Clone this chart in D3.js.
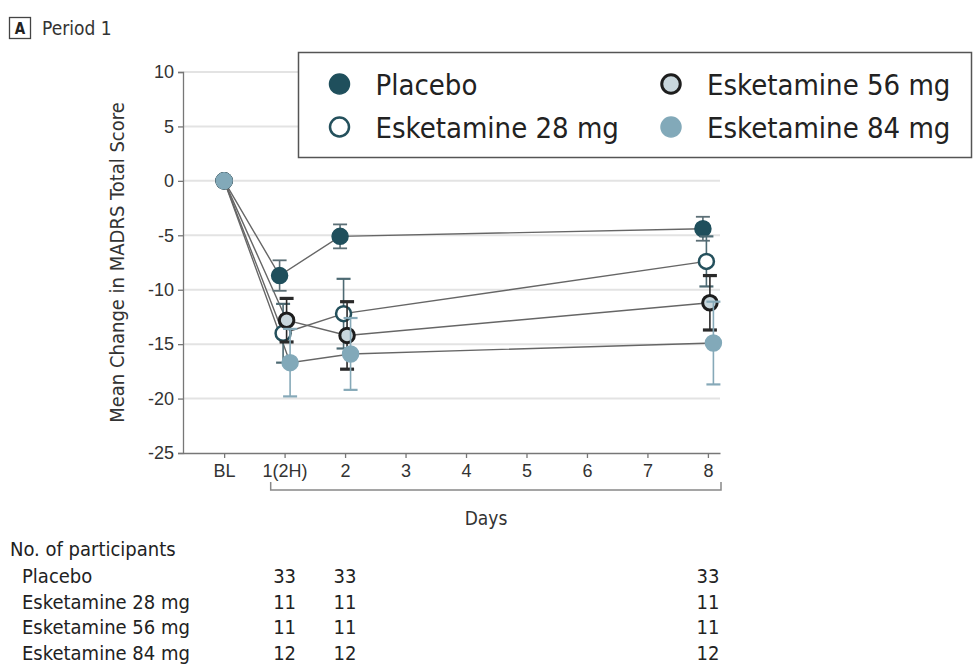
<!DOCTYPE html>
<html>
<head>
<meta charset="utf-8">
<script src="https://cdn.jsdelivr.net/npm/d3@7"></script>
<style>
  html, body { margin: 0; padding: 0; background: #fff; }
  svg { display: block; font-family: "DejaVu Sans Condensed", "Liberation Sans Narrow", "Open Sans", sans-serif; }
</style>
</head>
<body>
<svg id="chart" width="974" height="664"></svg>
<script>
// Day positions on the x axis and their labels
const tickValues = [0, 1, 2, 3, 4, 5, 6, 7, 8];
const tickLabels = ["BL", "1(2H)", "2", "3", "4", "5", "6", "7", "8"];

// Assessment days that carry data
const days = [0, 1, 2, 8];

// Mean change in MADRS total score, and error half-widths, per group
const seriesNames = ["Placebo", "Esketamine 28 mg", "Esketamine 56 mg", "Esketamine 84 mg"];
const placeboMean = [0, -8.7, -5.1, -4.4];
const placeboErr  = [0, 1.4, 1.1, 1.1];
const esk28Mean   = [0, -14.0, -12.2, -7.4];
const esk28Err    = [0, 2.7, 3.2, 2.3];
const esk56Mean   = [0, -12.8, -14.2, -11.2];
const esk56Err    = [0, 2.0, 3.1, 2.5];
const esk84Mean   = [0, -16.7, -15.9, -14.9];
const esk84Err    = [0, 3.1, 3.3, 3.8];

// Participants at each post-baseline day
const participantDays = [1, 2, 8];
const placeboN = [33, 33, 33];
const esk28N   = [11, 11, 11];
const esk56N   = [11, 11, 11];
const esk84N   = [12, 12, 12];

const yTicks = [10, 5, 0, -5, -10, -15, -20, -25];

// Visual styling per group
const styles = [
  { fill: "#1f4f5c", stroke: "#1f4f5c", sw: 1.5, err: "#5c6f76", errW: 1.8, dodge: -5 },
  { fill: "#ffffff", stroke: "#24505c", sw: 2.5, err: "#4d6a73", errW: 2.2, dodge: -1.5 },
  { fill: "#c8d6dc", stroke: "#1d1d1d", sw: 3,   err: "#2a2a2a", errW: 3.2, dodge: 2 },
  { fill: "#82a9b9", stroke: "#82a9b9", sw: 1.5, err: "#86a9b8", errW: 2.2, dodge: 5.5 }
];

const series = [
  { name: seriesNames[0], mean: placeboMean, err: placeboErr, n: placeboN },
  { name: seriesNames[1], mean: esk28Mean,   err: esk28Err,   n: esk28N },
  { name: seriesNames[2], mean: esk56Mean,   err: esk56Err,   n: esk56N },
  { name: seriesNames[3], mean: esk84Mean,   err: esk84Err,   n: esk84N }
].map((s, i) => ({ ...s, style: styles[i],
  points: days.map((d, j) => ({ day: d, mean: s.mean[j], err: s.err[j] })) }));

const svg = d3.select("#chart");

const x = d3.scaleLinear().domain([-0.68, 8.2]).range([183, 720]);
const y = d3.scaleLinear().domain([-25, 10]).range([453, 72]);
const px = (d, s) => x(d.day) + (d.day === 0 ? 0 : s.style.dodge);
const hyphenFmt = d => String(d).replace("\u2212", "-");

// Panel tag
svg.append("rect").attr("x", 9.5).attr("y", 17.5).attr("width", 21).attr("height", 21)
  .attr("fill", "none").attr("stroke", "#444").attr("stroke-width", 1.3);
svg.append("text").attr("x", 20).attr("y", 34).attr("text-anchor", "middle")
  .attr("font-size", 15).attr("font-weight", "bold").attr("fill", "#222").text("A");
svg.append("text").attr("x", 42).attr("y", 35).attr("font-size", 19).attr("fill", "#333").text("Period 1");

// Gridlines
svg.append("g").selectAll("line").data(yTicks.filter(t => t !== -25)).join("line")
  .attr("x1", 183).attr("x2", 720).attr("y1", d => y(d)).attr("y2", d => y(d))
  .attr("stroke", "#e3e3e3").attr("stroke-width", 2);

// Y axis
const yAxis = svg.append("g").attr("transform", "translate(183,0)")
  .call(d3.axisLeft(y).tickValues(yTicks).tickFormat(hyphenFmt).tickSize(5).tickPadding(4));
yAxis.select(".domain").attr("stroke", "#777").attr("stroke-width", 1.3);
yAxis.selectAll(".tick line").attr("stroke", "#777").attr("stroke-width", 1.3);
yAxis.selectAll(".tick text").attr("font-size", 18).attr("fill", "#333")
  .attr("font-family", "inherit");

svg.append("text")
  .attr("transform", `translate(124,${y(-7.5)}) rotate(-90)`)
  .attr("text-anchor", "middle").attr("font-size", 20).attr("fill", "#333")
  .text("Mean Change in MADRS Total Score");

// X axis
const xAxis = svg.append("g").attr("transform", "translate(0,453)")
  .call(d3.axisBottom(x).tickValues(tickValues).tickFormat((d, i) => tickLabels[i])
    .tickSize(5).tickPadding(6).tickSizeOuter(0));
xAxis.select(".domain").attr("stroke", "#777").attr("stroke-width", 1.3);
xAxis.selectAll(".tick line").attr("stroke", "#777").attr("stroke-width", 1.3);
xAxis.selectAll(".tick text").attr("font-size", 18).attr("fill", "#333")
  .attr("font-family", "inherit");

// Days bracket
const bx1 = x(0.77), bx2 = x(8.2) + 1, by = 490;
svg.append("path")
  .attr("d", `M${bx1},${by - 8}V${by}H${bx2}V${by - 8}`)
  .attr("fill", "none").attr("stroke", "#888").attr("stroke-width", 1.5);
svg.append("text").attr("x", x(4.33)).attr("y", 525).attr("text-anchor", "middle")
  .attr("font-size", 19).attr("fill", "#333").text("Days");

// Connecting lines
const line = s => d3.line().x(d => px(d, s)).y(d => y(d.mean));
svg.append("g").selectAll("path").data(series).join("path")
  .attr("d", s => line(s)(s.points))
  .attr("fill", "none").attr("stroke", "#666").attr("stroke-width", 1.4);

// Error bars and markers, group by group
series.forEach(s => {
  const g = svg.append("g");
  const pts = s.points.filter(d => d.err > 0);
  g.selectAll("line.v").data(pts).join("line")
    .attr("x1", d => px(d, s)).attr("x2", d => px(d, s))
    .attr("y1", d => y(d.mean + d.err)).attr("y2", d => y(d.mean - d.err))
    .attr("stroke", s.style.err).attr("stroke-width", 1.6);
  [1, -1].forEach(sign => {
    g.selectAll(null).data(pts).join("line")
      .attr("x1", d => px(d, s) - 7).attr("x2", d => px(d, s) + 7)
      .attr("y1", d => y(d.mean + sign * d.err)).attr("y2", d => y(d.mean + sign * d.err))
      .attr("stroke", s.style.err).attr("stroke-width", s.style.errW);
  });
  g.selectAll("circle").data(s.points).join("circle")
    .attr("cx", d => px(d, s)).attr("cy", d => y(d.mean))
    .attr("r", 8 - s.style.sw / 2 + 0.75)
    .attr("fill", s.style.fill).attr("stroke", s.style.stroke).attr("stroke-width", s.style.sw);
});

// Legend
const lg = svg.append("g");
lg.append("rect").attr("x", 298.5).attr("y", 52.5).attr("width", 673).attr("height", 105)
  .attr("fill", "#fff").attr("stroke", "#555").attr("stroke-width", 1.5);
const legendPos = [[339.5, 84], [339.5, 127], [671, 84], [671, 127]];
series.forEach((s, i) => {
  const [lx, ly] = legendPos[i];
  lg.append("circle").attr("cx", lx).attr("cy", ly).attr("r", 10 - s.style.sw / 2 + 0.75)
    .attr("fill", s.style.fill).attr("stroke", s.style.stroke).attr("stroke-width", s.style.sw);
  lg.append("text").attr("x", lx + 36).attr("y", ly + 10.5).attr("font-size", 29)
    .attr("fill", "#222").text(s.name);
});

// Participant counts table
const tbl = svg.append("g");
tbl.append("text").attr("x", 10).attr("y", 556).attr("font-size", 20).attr("fill", "#222")
  .text("No. of participants");
series.forEach((s, i) => {
  const ry = 583 + i * 25.5;
  tbl.append("text").attr("x", 22).attr("y", ry).attr("font-size", 20).attr("fill", "#222").text(s.name);
  tbl.selectAll(null).data(s.n).join("text")
    .attr("x", (d, j) => x(participantDays[j])).attr("y", ry)
    .attr("text-anchor", "middle").attr("font-size", 20).attr("fill", "#222").text(d => d);
});
</script>
</body>
</html>
